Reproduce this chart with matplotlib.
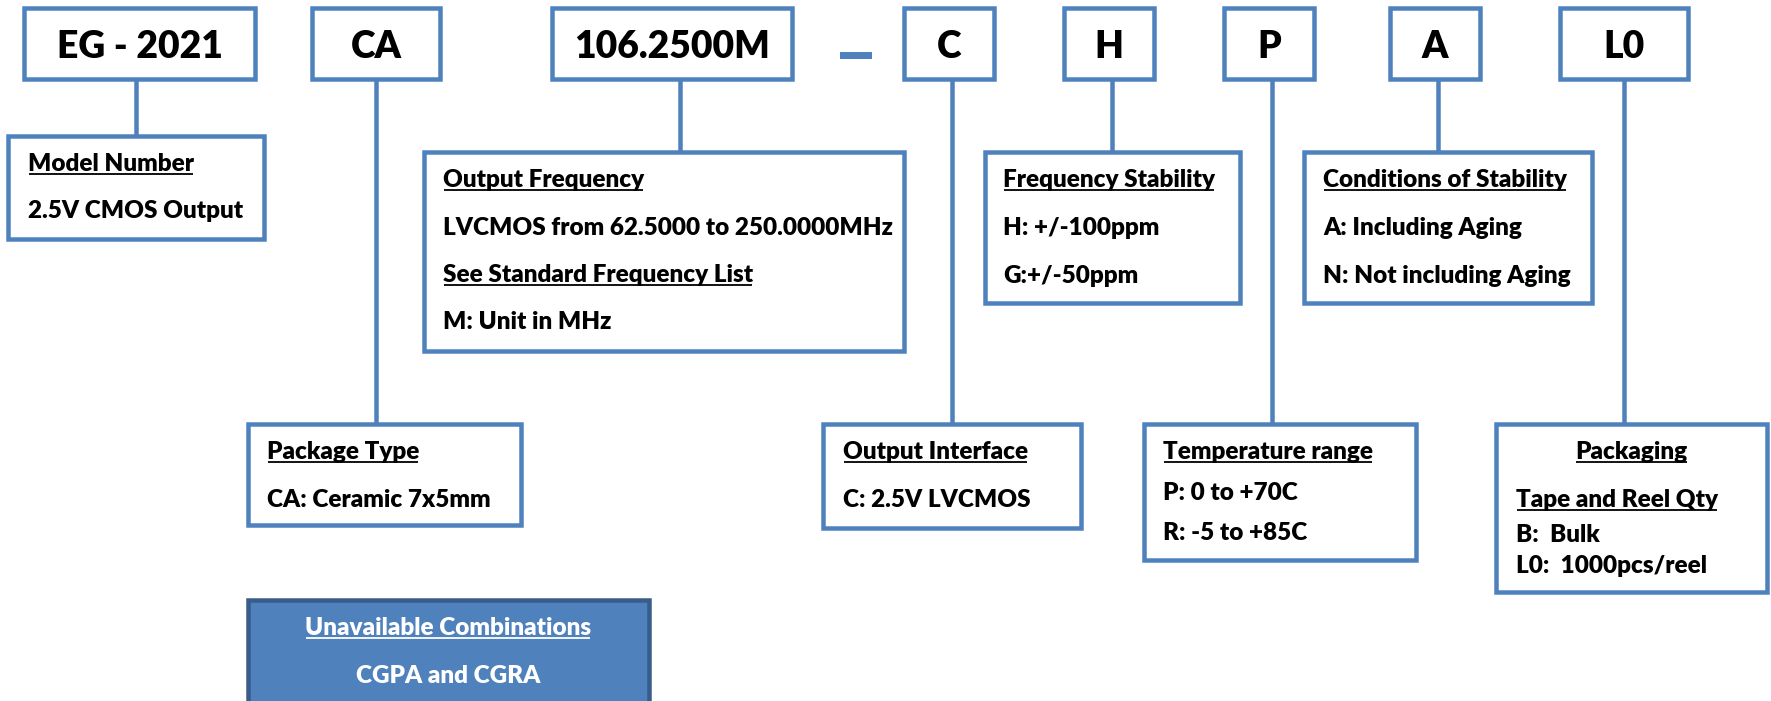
import matplotlib
matplotlib.use("Agg")
import matplotlib.pyplot as plt
from matplotlib.patches import Rectangle

# ---------------- content ----------------
codes = ["EG - 2021", "CA", "106.2500M", "C", "H", "P", "A", "L0"]

model_lines = [("Model Number", True), ("2.5V CMOS Output", False)]
freq_lines = [("Output Frequency", True),
              ("LVCMOS from 62.5000 to 250.0000MHz", False),
              ("See Standard Frequency List", True),
              ("M: Unit in MHz", False)]
stab_lines = [("Frequency Stability", True), ("H: +/-100ppm", False), ("G:+/-50ppm", False)]
cond_lines = [("Conditions of Stability", True), ("A: Including Aging", False),
              ("N: Not including Aging", False)]
pkg_lines = [("Package Type", True), ("CA: Ceramic 7x5mm", False)]
iface_lines = [("Output Interface", True), ("C: 2.5V LVCMOS", False)]
temp_lines = [("Temperature range", True), ("P: 0 to +70C", False), ("R: -5 to +85C", False)]
pack_lines = [("Packaging", True), ("Tape and Reel Qty", True), ("B:  Bulk", False),
              ("L0:  1000pcs/reel", False)]
unavail_lines = [("Unavailable Combinations", True), ("CGPA and CGRA", False)]

# ---------------- layout (pixel space, outer edges) ----------------
W, H = 1771, 701
BLUE = "#4F81BD"
DARK = "#385D8A"
LW_PX = 4.5
LW = LW_PX * 72 / 100

top_y = (6, 81)
code_x = [(22, 257), (310, 442), (550, 794), (902, 996), (1062, 1156),
          (1222, 1316), (1388, 1482), (1558, 1690)]
code_conn = [136, 376, 680, 952, 1112, 1272, 1438, 1624]

# description boxes: (lines, x0, x1, y0, y1, text_x, baselines, centered, code index)
desc = [
    (model_lines, 6, 266, 134, 241, 28, [171, 218], [False, False], 0),
    (freq_lines, 422, 906, 150, 353, 443, [187, 235, 282, 329], [False] * 4, 2),
    (stab_lines, 983, 1242, 150, 305, 1003, [187, 235, 283], [False] * 3, 4),
    (cond_lines, 1302, 1594, 150, 305, 1323, [187, 235, 283], [False] * 3, 6),
    (pkg_lines, 246, 523, 422, 527, 267, [459, 507], [False] * 2, 1),
    (iface_lines, 821, 1083, 422, 530, 843, [459, 507], [False] * 2, 3),
    (temp_lines, 1142, 1418, 422, 562, 1163, [459, 500, 540], [False] * 3, 5),
    (pack_lines, 1494, 1769, 422, 594, 1516, [459, 507, 542, 573],
     [True, False, False, False], 7),
]

FONT = "Lato"
WEIGHT = "heavy"

fig = plt.figure(figsize=(W / 100, H / 100), dpi=100)
ax = fig.add_axes([0, 0, 1, 1])
ax.set_xlim(0, W)
ax.set_ylim(H, 0)
ax.axis("off")
renderer = fig.canvas.get_renderer()


def text_width(s, size):
    t = ax.text(0, 0, s, fontsize=size, fontfamily=FONT, fontweight=WEIGHT)
    bb = t.get_window_extent(renderer)
    t.remove()
    return bb.width


body_size = 1.03 * 15 * 437 / text_width("LVCMOS from 62.5000 to 250.0000MHz", 15)
code_size = 26 * 196 / text_width("106.2500M", 26)


def box(x0, x1, y0, y1, face="white", edge=BLUE, z=2):
    h = LW_PX / 2
    ax.add_patch(Rectangle((x0 + h, y0 + h), x1 - x0 - LW_PX, y1 - y0 - LW_PX,
                           facecolor=face, edgecolor=edge, lw=LW, joinstyle="miter", zorder=z))


def underline(t, y, color):
    bb = t.get_window_extent(renderer)
    inv = ax.transData.inverted()
    (xa, _), (xb, _) = inv.transform([(bb.x0, bb.y0), (bb.x1, bb.y0)])
    ax.plot([xa + 1, xb - 1], [y + 2.8, y + 2.8], color=color, lw=1.3,
            solid_capstyle="butt", zorder=5)


def write(s, x, y, ul, center=False, color="black", size=None):
    t = ax.text(x, y, s, fontsize=size or body_size, fontfamily=FONT, fontweight=WEIGHT,
                color=color, ha="center" if center else "left", va="baseline", zorder=4)
    if ul:
        underline(t, y, color)
    return t


# connectors first (under boxes)
for (lines, x0, x1, y0, y1, tx, bl, cen, ci) in desc:
    ax.plot([code_conn[ci]] * 2, [top_y[1] - 2, y0 + 2], color=BLUE, lw=LW, zorder=1,
            solid_capstyle="butt")

# top code boxes
for s, (x0, x1) in zip(codes, code_x):
    box(x0, x1, top_y[0], top_y[1])
    ax.text((x0 + x1) / 2, 58, s, fontsize=code_size, fontfamily=FONT, fontweight=WEIGHT,
            ha="center", va="baseline", zorder=4)

# separator dash between frequency and interface codes
ax.add_patch(Rectangle((840, 52), 32, 7, facecolor=BLUE, edgecolor="none", zorder=2))

# description boxes
for (lines, x0, x1, y0, y1, tx, bl, cen, ci) in desc:
    box(x0, x1, y0, y1)
    for (s, ul), yb, c in zip(lines, bl, cen):
        write(s, (x0 + x1) / 2 if c else tx, yb, ul, center=c)

# unavailable combinations box
box(246, 651, 598, 712, face=BLUE, edge=DARK)
for (s, ul), yb in zip(unavail_lines, [635, 683]):
    write(s, 448, yb, ul, center=True, color="white")

fig.savefig("out.png", dpi=100, facecolor="white")
